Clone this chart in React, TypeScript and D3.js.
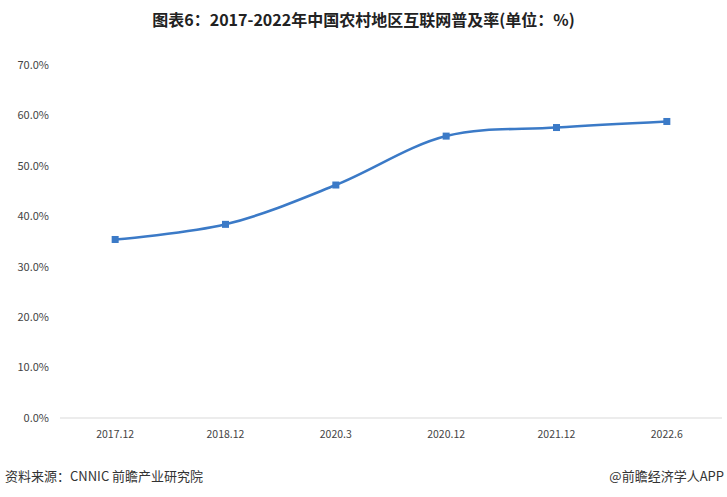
import React from "react";
import * as d3 from "d3";

const categories = ["2017.12", "2018.12", "2020.3", "2020.12", "2021.12", "2022.6"];
const values = [35.4, 38.4, 46.2, 55.9, 57.6, 58.8];
const yTicks = [0, 10, 20, 30, 40, 50, 60, 70];

const W = 727;
const H = 497;
const left = 60;
const right = 722;
const top = 65;
const bottom = 418;

export default function App() {
  const x = d3.scaleBand<string>().domain(categories).range([left, right]);
  const y = d3.scaleLinear().domain([0, 70]).range([bottom, top]);
  const cx = (c: string) => (x(c) ?? 0) + x.bandwidth() / 2;
  const line = d3
    .line<number>()
    .x((_, i) => cx(categories[i]))
    .y((d) => y(d))
    .curve(d3.curveCatmullRom.alpha(0.5));
  const font = "'Noto Sans CJK SC', 'Noto Sans', sans-serif";
  return (
    <svg
      width={W}
      height={H}
      style={{ position: "absolute", left: 0, top: 0, background: "#fff" }}
    >
      <text
        x={W / 2}
        y={26}
        textAnchor="middle"
        fontFamily={font}
        fontWeight="bold"
        fontSize={16}
        fill="#222"
      >
        图表6：2017-2022年中国农村地区互联网普及率(单位：%)
      </text>
      {yTicks.map((t) => (
        <text
          key={t}
          x={49}
          y={y(t)}
          dy="0.35em"
          textAnchor="end"
          fontFamily={font}
          fontSize={11}
          fill="#444"
        >
          {t.toFixed(1)}%
        </text>
      ))}
      <line x1={left} x2={right} y1={bottom} y2={bottom} stroke="#d9d9d9" strokeWidth={1} />
      {categories.map((c) => (
        <text
          key={c}
          x={cx(c)}
          y={438}
          textAnchor="middle"
          fontFamily={font}
          fontSize={10.5}
          fill="#444"
        >
          {c}
        </text>
      ))}
      <path d={line(values) ?? ""} fill="none" stroke="#3b7ac7" strokeWidth={2.6} />
      {values.map((v, i) => (
        <rect
          key={i}
          x={cx(categories[i]) - 3.5}
          y={y(v) - 3.5}
          width={7}
          height={7}
          fill="#3b7ac7"
        />
      ))}
      <text x={5} y={481} fontFamily={font} fontSize={13} fill="#333">
        资料来源：CNNIC 前瞻产业研究院
      </text>
      <text x={724} y={481} textAnchor="end" fontFamily={font} fontSize={13} fill="#333">
        @前瞻经济学人APP
      </text>
    </svg>
  );
}
